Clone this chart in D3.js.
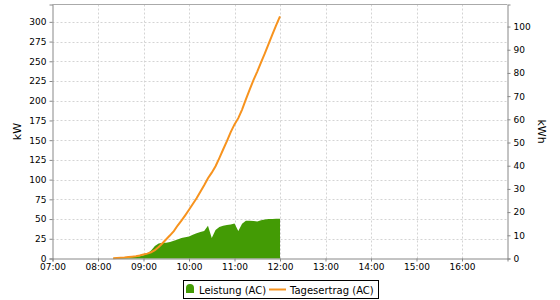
<!DOCTYPE html>
<html>
<head>
<meta charset="utf-8">
<script src="https://cdn.jsdelivr.net/npm/d3@7"></script>
<style>
    body { margin: 0; background: #fff; }
    text { font-family: "DejaVu Sans", sans-serif; }
</style>
</head>
<body>
<div id="chart"></div>
<script>
// times of the readings (5 min steps)
var times = ["08:20", "08:25", "08:30", "08:35", "08:40", "08:45", "08:50", "08:55",
    "09:00", "09:05", "09:10", "09:15", "09:20", "09:25", "09:30", "09:35", "09:40", "09:45", "09:50", "09:55",
    "10:00", "10:05", "10:10", "10:15", "10:20", "10:25", "10:30", "10:35", "10:40", "10:45", "10:50", "10:55",
    "11:00", "11:05", "11:10", "11:15", "11:20", "11:25", "11:30", "11:35", "11:40", "11:45", "11:50", "11:55",
    "12:00"]
// Leistung (AC) in kW
var leistung = [0.5, 0.8, 1, 1.2, 1.5, 2, 2.5, 3,
    4, 6, 10, 16, 19, 20, 20, 21, 22.5, 24, 26, 27,
    28, 30, 32, 33.5, 35, 41.5, 26, 36, 40, 41.5, 42.5, 43,
    44.5, 35, 44, 48, 48, 47.5, 47, 48.5, 49.5, 50, 50, 50.5,
    50.5]
// Tagesertrag (AC) in kWh
var tagesertrag = [0.1, 0.2, 0.3, 0.4, 0.6, 0.8, 1.0, 1.3,
    1.7, 2.1, 2.7, 3.6, 5.0, 6.6, 8.3, 10.0, 11.8, 14.2, 16.3, 18.6,
    21.0, 23.5, 26.0, 28.8, 31.6, 34.6, 37.0, 39.8, 43.3, 47.0, 50.6, 54.5,
    57.8, 60.5, 64.2, 68.6, 72.8, 76.9, 80.6, 84.6, 88.4, 92.5, 96.6, 100.6,
    104.4]

var xTicks = ["07:00", "08:00", "09:00", "10:00", "11:00", "12:00", "13:00", "14:00", "15:00", "16:00"]
var kwTicks = [0, 25, 50, 75, 100, 125, 150, 175, 200, 225, 250, 275, 300]
var kwhTicks = [0, 10, 20, 30, 40, 50, 60, 70, 80, 90, 100]
var legendLabels = ["Leistung (AC)", "Tagesertrag (AC)"]

//---------------------------------------------------
// init parameters
//---------------------------------------------------
var width = 560,
    height = 300
var plotLeft = 52.5, plotRight = 507.5,
    plotTop = 4.5, plotBottom = 258.5
var green = "#439b05",
    orange = "#f7931e",
    axisColor = "#888",
    gridColor = "#d4d4d4"

var parse = d3.timeParse("%H:%M")
var data = times.map((t, i) => {
    return { t: parse(t), kw: leistung[i], kwh: tagesertrag[i] }
})

var x = d3.scaleTime()
    .domain([parse("07:00"), parse("17:00")])
    .range([plotLeft, plotRight])
var yL = d3.scaleLinear().domain([0, 322]).range([plotBottom, plotTop])
var yR = d3.scaleLinear().domain([0, 109.5]).range([plotBottom, plotTop])

var svg = d3.select("#chart")
    .append("svg")
    .attr("width", width)
    .attr("height", height)

//------------------------------------------
// grid
//------------------------------------------
var grid = svg.append("g")
    .style("stroke", gridColor)
    .style("stroke-dasharray", "2,2")
    .style("stroke-width", "1px")

grid.selectAll(".vgrid")
    .data(xTicks.slice(1))
    .enter()
    .append("line")
    .attr("x1", (d) => Math.round(x(parse(d))) + 0.5)
    .attr("x2", (d) => Math.round(x(parse(d))) + 0.5)
    .attr("y1", plotTop)
    .attr("y2", plotBottom)

grid.selectAll(".hgrid")
    .data(kwTicks.slice(1))
    .enter()
    .append("line")
    .attr("x1", plotLeft)
    .attr("x2", plotRight)
    .attr("y1", (d) => Math.round(yL(d)) + 0.5)
    .attr("y2", (d) => Math.round(yL(d)) + 0.5)

//------------------------------------------
// area + line
//------------------------------------------
var area = d3.area()
    .x((d) => x(d.t))
    .y0(yL(0))
    .y1((d) => yL(d.kw))

svg.append("path")
    .datum(data)
    .attr("d", area)
    .style("fill", green)

var line = d3.line()
    .x((d) => x(d.t))
    .y((d) => yR(d.kwh))

svg.append("path")
    .datum(data)
    .attr("d", line)
    .style("fill", "none")
    .style("stroke", orange)
    .style("stroke-width", 2)

//------------------------------------------
// outline + axes
//------------------------------------------
svg.append("line")
    .attr("x1", plotLeft).attr("x2", plotRight)
    .attr("y1", plotTop).attr("y2", plotTop)
    .style("stroke", "#aaa")

svg.append("g")
    .attr("transform", "translate(0," + plotBottom + ")")
    .call(d3.axisBottom(x)
        .tickValues(xTicks.map(parse))
        .tickFormat(d3.timeFormat("%H:%M"))
        .tickSize(3).tickPadding(2))

svg.append("g")
    .attr("transform", "translate(" + plotLeft + ",0)")
    .call(d3.axisLeft(yL).tickValues(kwTicks).tickSize(3).tickPadding(3))

svg.append("g")
    .attr("transform", "translate(" + plotRight + ",0)")
    .call(d3.axisRight(yR).tickValues(kwhTicks).tickSize(3).tickPadding(3))

svg.selectAll(".domain, .tick line")
    .style("stroke", axisColor)
svg.selectAll(".tick text")
    .style("font-family", "DejaVu Sans")
    .style("font-size", "9px")
    .style("fill", "#000")

// axis titles
svg.append("text")
    .attr("transform", "translate(21," + (plotTop + plotBottom) / 2 + ") rotate(-90)")
    .attr("text-anchor", "middle")
    .style("font-size", "11px")
    .text("kW")

svg.append("text")
    .attr("transform", "translate(538," + (plotTop + plotBottom) / 2 + ") rotate(90)")
    .attr("text-anchor", "middle")
    .style("font-size", "11px")
    .text("kWh")

//------------------------------------------
// legend
//------------------------------------------
var legend = svg.append("g")

legend.append("rect")
    .attr("x", 183.5).attr("y", 280.5)
    .attr("width", 195).attr("height", 18)
    .style("fill", "#fff")
    .style("stroke", "#000")

legend.append("path")
    .attr("d", "M186,293 L186,288 Q186,284 190,284 Q194,284 194,288 L194,293 Z")
    .style("fill", green)

legend.append("text")
    .attr("x", 199).attr("y", 293.5)
    .style("font-size", "10px")
    .text(legendLabels[0])

legend.append("line")
    .attr("x1", 269).attr("x2", 286)
    .attr("y1", 289.5).attr("y2", 289.5)
    .style("stroke", orange)
    .style("stroke-width", 2)

legend.append("text")
    .attr("x", 290).attr("y", 293.5)
    .style("font-size", "10px")
    .text(legendLabels[1])
</script>
</body>
</html>
